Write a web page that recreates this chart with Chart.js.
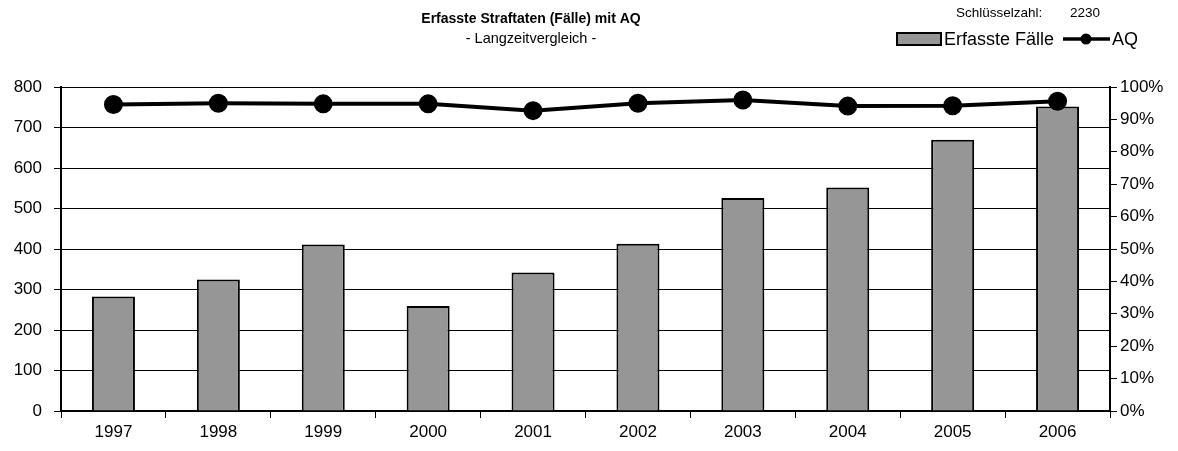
<!DOCTYPE html>
<html>
<head>
<meta charset="utf-8">
<script src="https://cdn.jsdelivr.net/npm/chart.js@4"></script>
<style>
body{margin:0;background:#fff;}
#wrap{width:1178px;height:451px;position:relative;}
</style>
</head>
<body>
<div id="wrap"><canvas id="chart" width="1178" height="451"></canvas></div>
<script>
const years = ["1997","1998","1999","2000","2001","2002","2003","2004","2005","2006"];
const faelle = [283, 325, 411, 259, 342, 413, 526, 552, 670, 752];
const aq = [94.6, 95.0, 94.8, 94.8, 92.7, 95.0, 96.0, 94.1, 94.2, 95.6];
const titleText = "Erfasste Straftaten (Fälle) mit AQ";
const subtitleText = "- Langzeitvergleich -";
const keyLabel = "Schlüsselzahl:";
const keyValue = "2230";

const FONT = "'Liberation Sans', Arial, sans-serif";

// titles + legend drawn by hand
const headerPlugin = {
id: "header",
afterDraw(c){
const ctx = c.ctx;
ctx.save();
ctx.fillStyle = "#000";
ctx.textBaseline = "middle";
ctx.textAlign = "center";
ctx.font = "bold 14px " + FONT;
ctx.fillText(titleText, 531, 19);
ctx.font = "14.5px " + FONT;
ctx.fillText(subtitleText, 531, 39);

ctx.textAlign = "left";
ctx.font = "13.5px " + FONT;
ctx.fillText(keyLabel, 956, 13);
ctx.fillText(keyValue, 1070, 13);

// legend
ctx.font = "18px " + FONT;
ctx.fillStyle = "#969696";
ctx.fillRect(897, 33, 44, 12);
ctx.strokeStyle = "#000";
ctx.lineWidth = 2;
ctx.strokeRect(897, 33, 44, 12);
ctx.fillStyle = "#000";
ctx.fillText(c.data.datasets[0].label, 944, 40);

ctx.lineWidth = 3.5;
ctx.beginPath();
ctx.moveTo(1063, 39);
ctx.lineTo(1110, 39);
ctx.stroke();
ctx.beginPath();
ctx.arc(1086, 39, 5.5, 0, Math.PI*2);
ctx.fill();
ctx.fillText(c.data.datasets[1].label, 1112, 40);
ctx.restore();
}
};

new Chart(document.getElementById("chart"), {
type: "bar",
data: {
labels: years,
datasets: [{
label: "Erfasste Fälle",
data: faelle,
backgroundColor: "#969696",
borderColor: "#000",
borderWidth: 2,
barPercentage: 0.41,
categoryPercentage: 1,
yAxisID: "y",
order: 2
},{
type: "line",
label: "AQ",
data: aq,
borderColor: "#000",
backgroundColor: "#000",
borderWidth: 4,
pointRadius: 7.5,
pointHoverRadius: 7.5,
tension: 0,
yAxisID: "y1",
order: 1
}]
},
options: {
responsive: false,
animation: false,
devicePixelRatio: 1,
layout: {padding: {top: 87, left: 0, right: 0, bottom: 0}},
plugins: {legend: {display: false}, tooltip: {enabled: false}},
scales: {
x: {
offset: true,
grid: {offset: true, drawOnChartArea: false, color: "#000", tickLength: 7, lineWidth: 1},
border: {color: "#000", width: 2},
ticks: {color: "#000", font: {family: FONT, size: 17}, padding: 4},
afterFit(s){ s.height = 40; }
},
y: {
position: "left",
min: 0, max: 800,
ticks: {stepSize: 100, color: "#000", font: {family: FONT, size: 17}, padding: 12},
grid: {color: "#000", lineWidth: 1, tickLength: 7},
border: {color: "#000", width: 2},
afterFit(s){ s.width = 61; }
},
y1: {
position: "right",
min: 0, max: 100,
ticks: {stepSize: 10, color: "#000", font: {family: FONT, size: 17}, padding: 3,
callback: v => v + "%"},
grid: {drawOnChartArea: false, color: "#000", tickLength: 7},
border: {color: "#000", width: 2},
afterFit(s){ s.width = 68; }
}
}
},
plugins: [headerPlugin]
});
</script>
</body>
</html>
